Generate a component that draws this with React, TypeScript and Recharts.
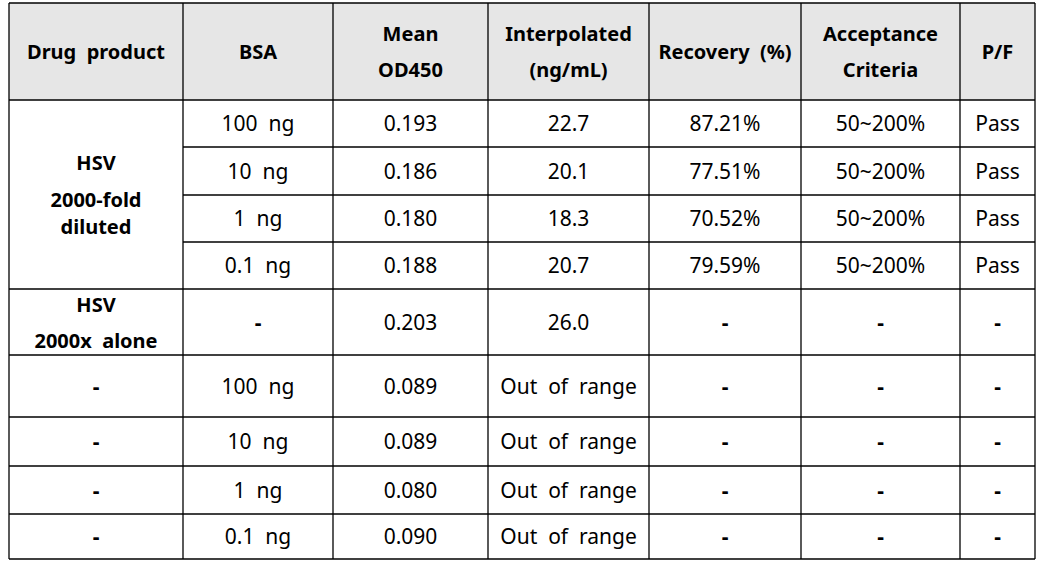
import { ReferenceArea, ReferenceLine, Scatter, ScatterChart, XAxis, YAxis } from "recharts";

// table content
const HEADERS = [
  ["Drug  product"],
  ["BSA"],
  ["Mean", "OD450"],
  ["Interpolated", "(ng/mL)"],
  ["Recovery  (%)"],
  ["Acceptance", "Criteria"],
  ["P/F"],
];
const DRUG_GROUPS = [
  { label: ["HSV", "2000-fold", "diluted"], rows: 4 },
  { label: ["HSV", "2000x  alone"], rows: 1 },
  { label: ["-"], rows: 1 },
  { label: ["-"], rows: 1 },
  { label: ["-"], rows: 1 },
  { label: ["-"], rows: 1 },
];
const BSA = ["100  ng", "10  ng", "1  ng", "0.1  ng", "-", "100  ng", "10  ng", "1  ng", "0.1  ng"];
const MEAN_OD = [0.193, 0.186, 0.18, 0.188, 0.203, 0.089, 0.089, 0.08, 0.09];
const INTERPOLATED: (number | null)[] = [22.7, 20.1, 18.3, 20.7, 26.0, null, null, null, null];
const RECOVERY: (number | null)[] = [87.21, 77.51, 70.52, 79.59, null, null, null, null, null];
const CRITERIA = ["50~200%", "50~200%", "50~200%", "50~200%", "-", "-", "-", "-", "-"];
const PASS_FAIL = ["Pass", "Pass", "Pass", "Pass", "-", "-", "-", "-", "-"];

// layout (px)
const W = 1044;
const H = 567;
const COL_EDGES = [9, 183, 333, 488, 649, 801, 960, 1035];
const ROW_EDGES = [3, 100, 147, 195, 242, 289, 355, 417, 466, 514, 559];

type Cell = { x: number; y: number; lines: string[]; bold: boolean };

const colMid = (c: number) => (COL_EDGES[c] + COL_EDGES[c + 1]) / 2;
const rowMid = (a: number, b: number) => (ROW_EDGES[a] + ROW_EDGES[b]) / 2;

function buildCells(): Cell[] {
  const cells: Cell[] = [];
  HEADERS.forEach((h, c) => cells.push({ x: colMid(c), y: rowMid(0, 1), lines: h, bold: true }));
  let r = 1;
  DRUG_GROUPS.forEach((g) => {
    cells.push({ x: colMid(0), y: rowMid(r, r + g.rows), lines: g.label, bold: g.label[0] !== "-" });
    r += g.rows;
  });
  BSA.forEach((_, i) => {
    const y = rowMid(i + 1, i + 2);
    const interp = INTERPOLATED[i];
    const rec = RECOVERY[i];
    const vals = [
      BSA[i],
      MEAN_OD[i].toFixed(3),
      interp == null ? "Out  of  range" : interp.toFixed(1),
      rec == null ? "-" : `${rec.toFixed(2)}%`,
      CRITERIA[i],
      PASS_FAIL[i],
    ];
    vals.forEach((v, k) => cells.push({ x: colMid(k + 1), y, lines: [v], bold: false }));
  });
  return cells;
}

// baseline offsets from the cell centre, by number of lines
const LINE_OFFSETS: Record<number, number[]> = {
  1: [7.5],
  2: [-10.5, 25.5],
  3: [-25, 12, 39.5],
};

function CellText(props: any) {
  const { cx, cy, payload } = props;
  const lines: string[] = payload.lines;
  const offs = LINE_OFFSETS[lines.length];
  const dash = lines.length === 1 && lines[0] === "-";
  return (
    <text
      x={cx}
      textAnchor="middle"
      fontFamily="'Noto Sans', sans-serif"
      fontSize={payload.bold ? 20 : 21}
      fontWeight={payload.bold || dash ? 700 : 400}
      fill="#000"
      style={{ whiteSpace: "pre" }}
    >
      {lines.map((l, i) => (
        <tspan key={i} x={cx} y={cy + offs[i]}>
          {l}
        </tspan>
      ))}
    </text>
  );
}

export default function App() {
  const cells = buildCells();
  const last = ROW_EDGES[ROW_EDGES.length - 1];
  return (
    <div style={{ position: "absolute", left: 0, top: 0, background: "#fff" }}>
      <ScatterChart width={W} height={H} margin={{ top: 0, right: 0, bottom: 0, left: 0 }}>
        <XAxis type="number" dataKey="x" domain={[0, W]} hide />
        <YAxis type="number" dataKey="y" domain={[0, H]} reversed hide />
        <ReferenceArea
          x1={COL_EDGES[0]}
          x2={COL_EDGES[COL_EDGES.length - 1]}
          y1={ROW_EDGES[0]}
          y2={ROW_EDGES[1]}
          fill="#e6e6e6"
          fillOpacity={1}
          stroke="none"
        />
        {ROW_EDGES.map((y, i) => {
          // rows inside the merged HSV cell skip the first column
          const merged = i >= 2 && i <= 4;
          const x1 = merged ? COL_EDGES[1] : COL_EDGES[0];
          return (
            <ReferenceLine
              key={`h${i}`}
              segment={[
                { x: x1, y },
                { x: COL_EDGES[COL_EDGES.length - 1], y },
              ]}
              stroke="#000"
              strokeWidth={1.3}
            />
          );
        })}
        {COL_EDGES.map((x, i) => (
          <ReferenceLine
            key={`v${i}`}
            segment={[
              { x, y: ROW_EDGES[0] },
              { x, y: last },
            ]}
            stroke="#000"
            strokeWidth={1.3}
          />
        ))}
        <Scatter data={cells} shape={CellText} isAnimationActive={false} />
      </ScatterChart>
    </div>
  );
}
